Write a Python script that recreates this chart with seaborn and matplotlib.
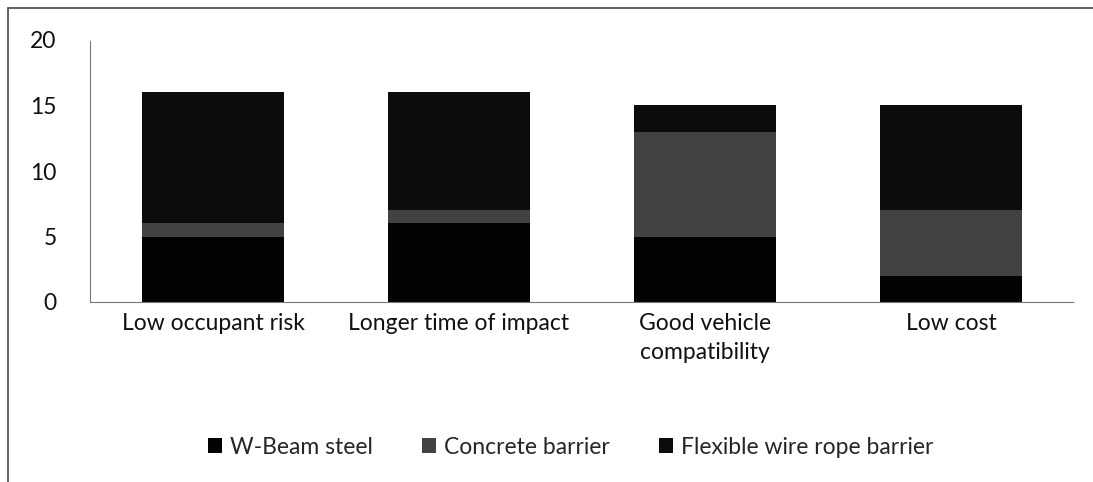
import matplotlib
matplotlib.use("Agg")
import matplotlib.pyplot as plt
import seaborn as sns
import numpy as np
from matplotlib.patches import Rectangle, Patch

categories = ["Low occupant risk", "Longer time of impact",
              "Good vehicle\ncompatibility", "Low cost"]
w_beam = [5, 6, 5, 2]
concrete = [1, 1, 8, 5]
flexible = [10, 9, 2, 8]
series_names = ["W-Beam steel", "Concrete barrier", "Flexible wire rope barrier"]
series_colors = ["#030303", "#424242", "#0c0c0c"]
y_ticks = [0, 5, 10, 15, 20]

sns.set_theme(style="white")
plt.rcParams['font.family'] = ['Lato', 'DejaVu Sans']

fig = plt.figure(figsize=(10.93, 4.82), dpi=100)
ax = fig.add_axes([90/1093, 1-302/482, (1074-90)/1093, (302-40)/482])

bottom = np.zeros(len(categories))
for name, vals, col in zip(series_names, [w_beam, concrete, flexible], series_colors):
    sns.barplot(x=categories, y=vals, bottom=bottom, color=col, width=0.575,
                ax=ax, edgecolor="none", linewidth=0, saturation=1)
    bottom = bottom + np.array(vals)

ax.set_ylim(0, 20)
ax.set_xlim(-0.5, len(categories) - 0.5)
ax.set_yticks(y_ticks)
ax.set_yticklabels([str(t) for t in y_ticks], fontsize=16.5, color="#111111")
ax.tick_params(axis="x", labelsize=16.5, colors="#111111", pad=8, length=0)
ax.tick_params(axis="y", pad=24, length=0)
for lab in ax.get_xticklabels():
    lab.set_linespacing(1.45)
for s in ["top", "right"]:
    ax.spines[s].set_visible(False)
for s in ["left", "bottom"]:
    ax.spines[s].set_color("#777777")
    ax.spines[s].set_linewidth(0.8)
    ax.spines[s].set_linestyle((0, (1, 1)))
ax.set_xlabel("")
ax.set_ylabel("")

handles = [Patch(facecolor=c, edgecolor="none") for c in series_colors]
fig.legend(handles, series_names, loc="center", bbox_to_anchor=(0.522, 1-447/482),
           ncol=3, frameon=False, fontsize=16.5, handlelength=0.6, handleheight=0.6,
           handletextpad=0.35, columnspacing=2.15)

fig.patches.append(Rectangle((8/1093, -0.05), 1.2, 1-8/482+0.05, transform=fig.transFigure,
                             fill=False, edgecolor="#555555", linewidth=1.3))

fig.savefig("out.png", dpi=100, facecolor="white")
